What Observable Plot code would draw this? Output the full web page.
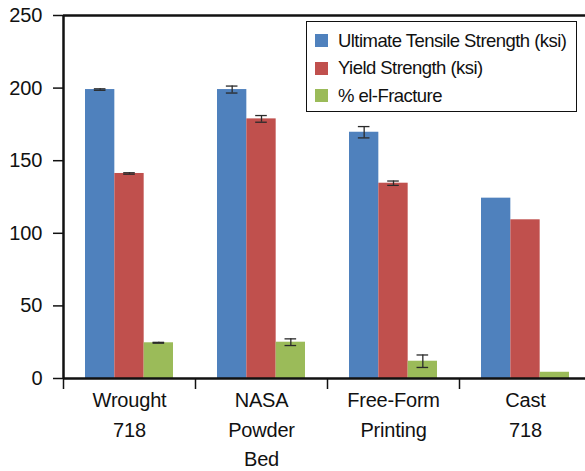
<!DOCTYPE html>
<html>
<head>
<meta charset="utf-8">
<script src="https://cdn.jsdelivr.net/npm/d3@7"></script>
<script src="https://cdn.jsdelivr.net/npm/@observablehq/plot@0.6"></script>
<style>
  html, body { margin: 0; padding: 0; background: white; overflow: hidden; }
  #wrap { position: relative; width: 585px; height: 471px; font-family: "Liberation Sans", Arial, sans-serif; }
  #legend { position: absolute; left: 306px; top: 21px; width: 271px; height: 91px; border: 1.3px solid #111; background: white; box-sizing: border-box; }
  .item { position: absolute; left: 0; height: 22px; display: flex; align-items: center; font-size: 18.5px; letter-spacing: -0.55px; color: #111; white-space: nowrap; }
  .sw { width: 13px; height: 13px; margin-left: 8px; margin-right: 10px; }
  .cat text { letter-spacing: -0.2px; }
  #chart g[aria-label="y-axis tick label"], #chart g[aria-label="y-axis tick label"] text { font-size: 20px; }
</style>
</head>
<body>
<div id="wrap"><div id="chart"></div><div id="legend"></div></div>
<script>
const categories = ["Wrought\n718", "NASA\nPowder\nBed", "Free-Form\nPrinting", "Cast\n718"];
const series = ["Ultimate Tensile Strength (ksi)", "Yield Strength (ksi)", "% el-Fracture"];
const utsValues = [199, 199, 169.6, 124.2];
const ysValues = [141.2, 178.8, 134.5, 109.3];
const elValues = [24.6, 25, 11.9, 4.3];
const utsErr = [0.5, 2.4, 3.9, 0];
const ysErr = [0.5, 2.3, 1.5, 0];
const elErr = [0.3, 2.3, 4.3, 0];
const colors = ["#4f81bd", "#c0504d", "#9bbb59"];
const yTicks = [0, 50, 100, 150, 200, 250];

const values = [utsValues, ysValues, elValues];
const errors = [utsErr, ysErr, elErr];

// Excel-style grouped layout: gap width 150% of a bar
const gap = 1.5;
const barW = 1 / (series.length + gap);
const capHalf = 0.044;

const rows = categories.flatMap((c, i) => series.map((s, k) => ({
  cat: c, i, s, k, v: values[k][i], e: errors[k][i]
})));
const x1 = d => d.i + (gap / 2 + d.k) * barW;
const x2 = d => x1(d) + barW;
const xc = d => x1(d) + barW / 2;
const errRows = rows.filter(d => d.e > 0);
const capRows = errRows.flatMap(d => [{...d, yy: d.v - d.e}, {...d, yy: d.v + d.e}]);

const chart = Plot.plot({
  width: 585,
  height: 471,
  marginTop: 15,
  marginBottom: 93,
  marginLeft: 63,
  marginRight: 0,
  x: {domain: [0, categories.length], range: [63, 591], axis: null},
  y: {domain: [0, 250], axis: null},
  color: {domain: series, range: colors},
  style: {fontFamily: "'Liberation Sans', Arial, sans-serif", background: "white", color: "#111", overflow: "visible"},
  marks: [
    Plot.rectY(rows, {x1, x2, y1: 0, y2: "v", fill: "s"}),
    Plot.ruleX(errRows, {x: xc, y1: d => d.v - d.e, y2: d => d.v + d.e, stroke: "#2a2a2a", strokeWidth: 1.3}),
    Plot.ruleY(capRows, {y: "yy", x1: d => xc(d) - capHalf, x2: d => xc(d) + capHalf, stroke: "#2a2a2a", strokeWidth: 1.3}),
    Plot.axisY({ticks: yTicks, tickSize: 10, tickPadding: 11, fontSize: 20, strokeWidth: 1.5, stroke: "#111"}),
    Plot.axisX({ticks: d3.range(categories.length + 1), tickSize: 11, tickFormat: () => "", strokeWidth: 1.5, stroke: "#111"}),
    Plot.ruleX([0], {strokeWidth: 2.5, stroke: "#111"}),
    Plot.ruleY([0, 250], {strokeWidth: 2.5, stroke: "#111"}),
    Plot.text(categories, {x: (d, i) => i + 0.5, y: 0, dy: 8, lineAnchor: "top", lineHeight: 1.47, fontSize: 20, text: d => d, fill: "#111", className: "cat"})
  ]
});
document.getElementById("chart").appendChild(chart);

const legend = document.getElementById("legend");
const rowCenters = [18.5, 46, 73.5];
series.forEach((s, k) => {
  const item = document.createElement("div");
  item.className = "item";
  item.style.top = (rowCenters[k] - 11) + "px";
  const sw = document.createElement("div");
  sw.className = "sw";
  sw.style.background = colors[k];
  const t = document.createElement("span");
  t.textContent = s;
  item.appendChild(sw);
  item.appendChild(t);
  legend.appendChild(item);
});
</script>
</body>
</html>
